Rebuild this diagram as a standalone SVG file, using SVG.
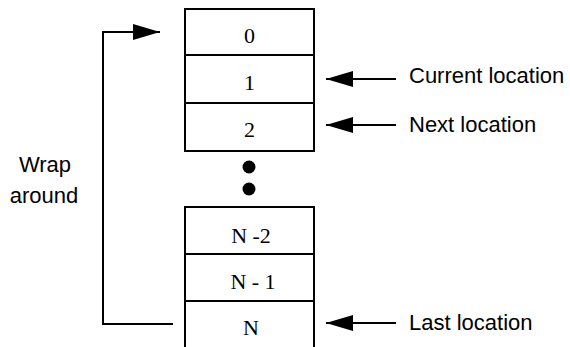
<svg xmlns="http://www.w3.org/2000/svg" width="570" height="347" viewBox="0 0 570 347">
  <style>
    .cell { fill: #fff; stroke: #000; stroke-width: 2; }
    .num { font-family: "Liberation Serif", "Times New Roman", serif; font-size: 22px; fill: #000; text-anchor: middle; }
    .lbl { font-family: "Liberation Sans", Arial, sans-serif; font-size: 22px; fill: #000; }
    .wire { fill: none; stroke: #000; stroke-width: 2; }
  </style>
  <defs>
    <marker id="head" viewBox="0 0 27 16" refX="27" refY="8" markerWidth="27" markerHeight="16" markerUnits="userSpaceOnUse" orient="auto">
      <path d="M0,0 L27,8 L0,16 Z" fill="#000"/>
    </marker>
  </defs>

  <!-- buffer slots, upper part -->
  <g id="slot-0">
    <rect class="cell" x="185" y="9" width="129" height="46"/>
    <text class="num" x="249.5" y="43">0</text>
  </g>
  <g id="slot-1">
    <rect class="cell" x="185" y="55" width="129" height="48"/>
    <text class="num" x="249.5" y="90">1</text>
  </g>
  <g id="slot-2">
    <rect class="cell" x="185" y="103" width="129" height="48"/>
    <text class="num" x="249.5" y="137">2</text>
  </g>

  <!-- ellipsis -->
  <g id="ellipsis">
    <circle cx="249" cy="167" r="6.5" fill="#000"/>
    <circle cx="249" cy="189" r="6.5" fill="#000"/>
  </g>

  <!-- buffer slots, lower part -->
  <g id="slot-n-2">
    <rect class="cell" x="185" y="207" width="129" height="47"/>
    <text class="num" x="251" y="243">N -2</text>
  </g>
  <g id="slot-n-1">
    <rect class="cell" x="185" y="254" width="129" height="47"/>
    <text class="num" x="253" y="289">N - 1</text>
  </g>
  <g id="slot-n">
    <path class="wire" d="M185,348 V301 H314 V348"/>
    <text class="num" x="251" y="335">N</text>
  </g>

  <!-- side labels -->
  <g id="label-current">
    <text class="lbl" x="409" y="83">Current location</text>
  </g>
  <g id="label-next">
    <text class="lbl" x="409" y="132">Next location</text>
  </g>
  <g id="label-last">
    <text class="lbl" x="409" y="330">Last location</text>
  </g>
  <g id="label-wrap">
    <text class="lbl" x="45" y="172" text-anchor="middle">Wrap</text>
    <text class="lbl" x="44" y="203" text-anchor="middle">around</text>
  </g>

  <!-- connectors -->
  <g id="connectors">
    <path class="wire" d="M173,324 H103 V32 H160" marker-end="url(#head)"/>
    <path class="wire" d="M396,79 H326" marker-end="url(#head)"/>
    <path class="wire" d="M396,125 H326" marker-end="url(#head)"/>
    <path class="wire" d="M396,323 H326" marker-end="url(#head)"/>
  </g>
</svg>
